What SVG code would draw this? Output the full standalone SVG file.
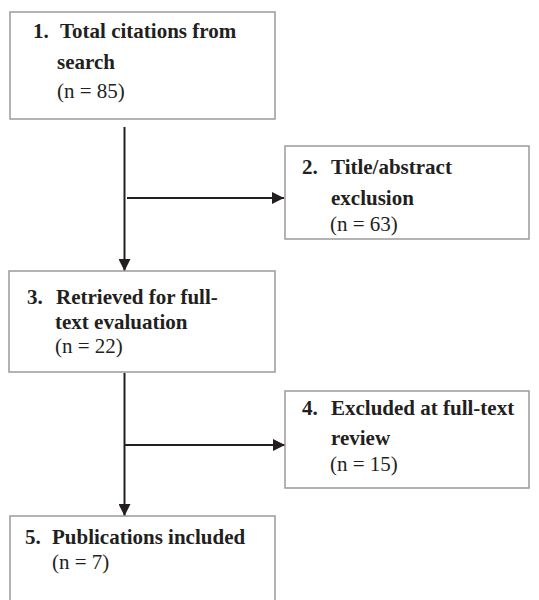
<svg xmlns="http://www.w3.org/2000/svg" width="539" height="600" viewBox="0 0 539 600">
<defs>
<marker id="ah" markerWidth="12" markerHeight="12" refX="12" refY="6" orient="auto" markerUnits="userSpaceOnUse">
<path d="M0,0 L12,6 L0,12 Z" fill="#231f20"/>
</marker>
</defs>
<style>
.box{fill:#fff;stroke:#9a9a9a;stroke-width:1.5}
.t{font-family:"Liberation Serif","Times New Roman",serif;font-size:21px;fill:#231f20}
.b{font-weight:bold}
.ln{stroke:#231f20;stroke-width:2;fill:none}
</style>
<rect width="539" height="600" fill="#fff"/>
<g id="connectors">
<line class="ln" x1="124.5" y1="127" x2="124.5" y2="271" marker-end="url(#ah)"/>
<line class="ln" x1="127" y1="198" x2="284" y2="198" marker-end="url(#ah)"/>
<line class="ln" x1="124.5" y1="373" x2="124.5" y2="516" marker-end="url(#ah)"/>
<line class="ln" x1="125" y1="445" x2="285" y2="445" marker-end="url(#ah)"/>
</g>
<g id="n1">
<rect class="box" x="10" y="12" width="265" height="107"/>
<text class="t b" x="33" y="38">1.</text>
<text class="t b" x="60" y="38">Total citations from</text>
<text class="t b" x="57" y="69">search</text>
<text class="t" x="57" y="98">(n = 85)</text>
</g>
<g id="n2">
<rect class="box" x="285" y="146" width="244" height="93"/>
<text class="t b" x="302" y="174">2.</text>
<text class="t b" x="331" y="174">Title/abstract</text>
<text class="t b" x="331" y="205">exclusion</text>
<text class="t" x="330" y="231">(n = 63)</text>
</g>
<g id="n3">
<rect class="box" x="9" y="271" width="266" height="101"/>
<text class="t b" x="27" y="304">3.</text>
<text class="t b" x="56" y="304">Retrieved for full-</text>
<text class="t b" x="55" y="329">text evaluation</text>
<text class="t" x="55" y="353">(n = 22)</text>
</g>
<g id="n4">
<rect class="box" x="285" y="391" width="244" height="97"/>
<text class="t b" x="302" y="415">4.</text>
<text class="t b" x="331" y="415">Excluded at full-text</text>
<text class="t b" x="331" y="445">review</text>
<text class="t" x="330" y="471">(n = 15)</text>
</g>
<g id="n5">
<rect class="box" x="10" y="516" width="265" height="90"/>
<text class="t b" x="25" y="544">5.</text>
<text class="t b" x="52" y="544">Publications included</text>
<text class="t" x="52" y="569">(n = 7)</text>
</g>
</svg>
